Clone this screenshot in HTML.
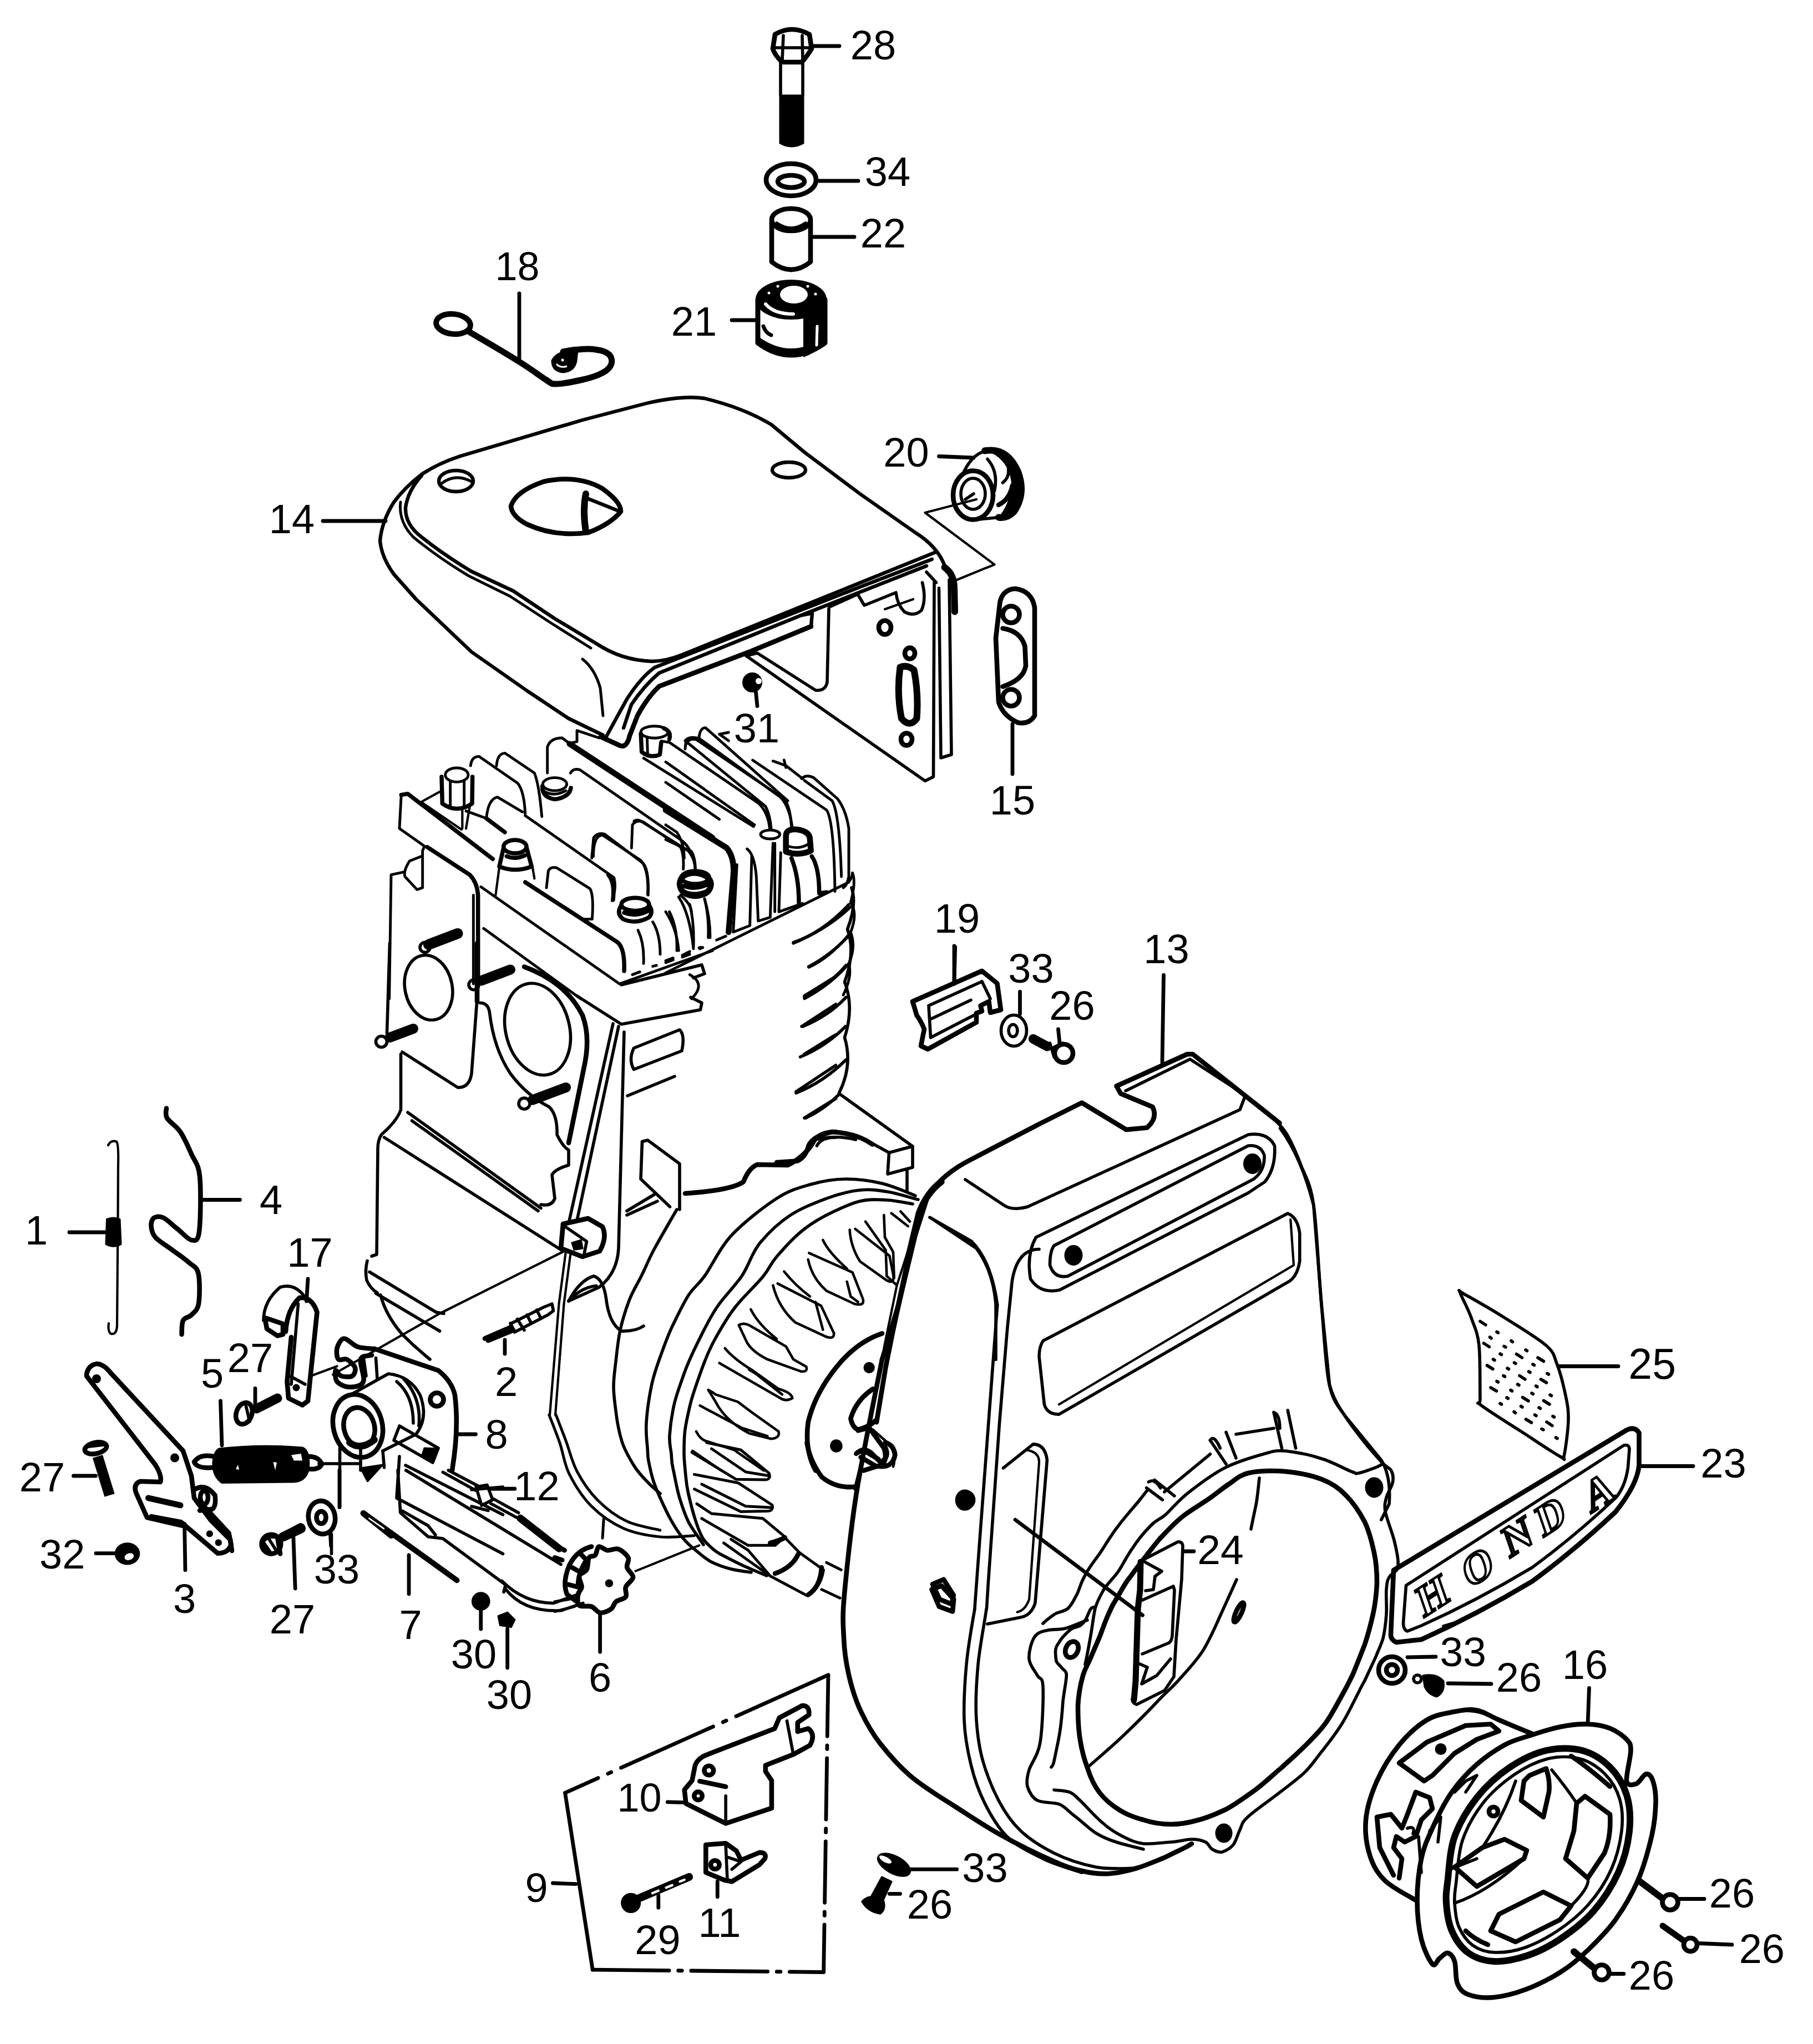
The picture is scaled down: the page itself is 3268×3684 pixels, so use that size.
<!DOCTYPE html>
<html>
<head>
<meta charset="utf-8">
<title>Parts diagram</title>
<style>
html,body{margin:0;padding:0;background:#fff;}
svg{position:absolute;left:0;top:0;}
body{width:3268px;height:3684px;overflow:hidden;}
svg{display:block;}
.l,.t,.k,.kk,.ld{fill:none;stroke:#000;stroke-linecap:round;stroke-linejoin:round;}
.w{fill:#fff;stroke:#000;stroke-linecap:round;stroke-linejoin:round;}
.b{fill:#000;stroke:#000;stroke-linejoin:round;}
.wf{fill:#fff;stroke:none;}
.n{font-family:"Liberation Sans",sans-serif;font-size:74px;fill:#000;}
.l{stroke-width:5.60}.t{stroke-width:4.20}.k{stroke-width:8.60}.kk{stroke-width:12.00}.w{stroke-width:5.60}.b{stroke-width:3.00}.ld{stroke-width:6.80}
.z2 .l{stroke-width:11.20}.z2 .t{stroke-width:8.40}.z2 .k{stroke-width:17.20}.z2 .kk{stroke-width:24.00}.z2 .w{stroke-width:11.20}.z2 .b{stroke-width:6.00}.z2 .ld{stroke-width:13.60}
.z3 .l{stroke-width:16.80}.z3 .t{stroke-width:12.60}.z3 .k{stroke-width:25.80}.z3 .kk{stroke-width:36.00}.z3 .w{stroke-width:16.80}.z3 .b{stroke-width:9.00}.z3 .ld{stroke-width:20.40}
.z14 .l{stroke-width:7.81}.z14 .t{stroke-width:5.86}.z14 .k{stroke-width:11.99}.z14 .kk{stroke-width:16.74}.z14 .w{stroke-width:7.81}.z14 .b{stroke-width:4.18}.z14 .ld{stroke-width:9.48}
.z23 .l{stroke-width:12.69}.z23 .t{stroke-width:9.52}.z23 .k{stroke-width:19.49}.z23 .kk{stroke-width:27.19}.z23 .w{stroke-width:12.69}.z23 .b{stroke-width:6.80}.z23 .ld{stroke-width:15.41}
.z15 .l{stroke-width:8.42}.z15 .t{stroke-width:6.31}.z15 .k{stroke-width:12.93}.z15 .kk{stroke-width:18.04}.z15 .w{stroke-width:8.42}.z15 .b{stroke-width:4.51}.z15 .ld{stroke-width:10.22}
.z18 .l{stroke-width:10.15}.z18 .t{stroke-width:7.61}.z18 .k{stroke-width:15.59}.z18 .kk{stroke-width:21.76}.z18 .w{stroke-width:10.15}.z18 .b{stroke-width:5.44}.z18 .ld{stroke-width:12.33}
.z20 .l{stroke-width:11.45}.z20 .t{stroke-width:8.58}.z20 .k{stroke-width:17.58}.z20 .kk{stroke-width:24.53}.z20 .w{stroke-width:11.45}.z20 .b{stroke-width:6.13}.z20 .ld{stroke-width:13.90}
#cover14 .l{stroke-width:6.4}#cover14 .t{stroke-width:5}
#head .l,#head2 .l{stroke-width:14.70}#head .k,#head2 .k{stroke-width:22.50}#head .kk,#head2 .kk{stroke-width:31.50}
#head3 .l{stroke-width:10.02}#head3 .k{stroke-width:15.33}
#fly1 .l{stroke-width:13.80}
#fly2 .l{stroke-width:11.33}
</style>
</head>
<body>
<svg xmlns="http://www.w3.org/2000/svg" width="3268" height="3684" viewBox="0 0 3268 3684">
<rect x="0" y="0" width="3268" height="3684" fill="#fff"/>

<!-- ===== TOP PARTS 28/34/22/21 ===== -->
<g id="top">
<path class="k" d="M1397,62 Q1427,44 1459,62 L1463,88 Q1450,108 1445,112 L1410,112 Q1397,100 1393,88 Z"/>
<path class="l" d="M1412,64 L1410,108 M1446,64 L1447,108 M1398,86 L1462,86"/>
<path class="l" d="M1407,112 L1407,172 M1447,112 L1447,172"/>
<path class="b" d="M1406,172 L1448,172 L1448,258 Q1427,270 1406,258 Z"/>
<ellipse class="k" cx="1426" cy="324" rx="45" ry="29"/>
<ellipse class="k" cx="1426" cy="327" rx="24" ry="11"/>
<path class="k" d="M1391,398 L1391,472 Q1426,500 1461,472 L1461,398"/>
<ellipse class="k" cx="1426" cy="396" rx="35" ry="20"/>
<path class="l" d="M1400,402 Q1426,420 1452,402"/>
<path d="M1366,540 L1366,618 Q1426,662 1487,618 L1487,540 Z" fill="#fff" stroke="#000" stroke-width="9" stroke-linejoin="round"/>
<path d="M1366,606 Q1426,650 1487,606 L1487,620 Q1426,664 1366,620 Z" fill="#000"/>
<path d="M1448,572 Q1470,566 1487,552 L1487,620 Q1470,636 1448,644 Z" fill="#000"/>
<path d="M1473,588 L1472,622" stroke="#fff" stroke-width="5" stroke-linecap="round"/>
<ellipse cx="1426" cy="540" rx="61" ry="33" fill="#000" stroke="#000" stroke-width="6"/>
<ellipse cx="1431" cy="531" rx="25" ry="16" fill="#fff"/>
<path d="M1380,548 Q1395,566 1430,566" stroke="#fff" stroke-width="6" fill="none" stroke-linecap="round"/>
<path d="M1376,588 Q1380,600 1390,604" stroke="#000" stroke-width="7" fill="none" stroke-linecap="round"/>
<circle cx="1402" cy="516" r="2.5" fill="#fff"/><circle cx="1456" cy="516" r="2.5" fill="#fff"/><circle cx="1470" cy="530" r="2.5" fill="#fff"/><circle cx="1386" cy="528" r="2.5" fill="#fff"/>
</g>

<!-- top labels -->
<g id="toplabels">
<path class="ld" d="M1464,83 L1513,83 M1471,326 L1547,326 M1461,427 L1540,427 M1319,577 L1362,577 M936,529 L936,652 M582,939 L695,939"/>
</g>
<!-- clip 18 -->
<g id="clip18">
<ellipse cx="817" cy="584" rx="31" ry="18" fill="none" stroke="#000" stroke-width="10" transform="rotate(6 817 584)"/>
<path d="M844,597 C859,606 913,637 936,652 C960,667 974,678 985,685 C996,692 992,692 1003,692 C1013,692 1033,688 1047,685 C1061,682 1077,677 1086,672 C1096,667 1100,662 1102,656 C1104,650 1102,643 1098,639 C1093,634 1082,631 1073,630 C1064,628 1052,629 1042,630 C1032,630 1020,633 1015,634" fill="none" stroke="#000" stroke-width="11" stroke-linecap="round" stroke-linejoin="round"/>
<path d="M1040,632 Q1005,632 996,650 Q996,668 1015,670 Q1035,668 1038,650 Z" fill="#000" stroke="#000" stroke-width="5"/>
<path d="M1003,656 Q1010,664 1022,660" stroke="#fff" stroke-width="3" fill="none"/>
<circle cx="1014" cy="649" r="2.5" fill="#fff"/>
</g>
<!-- cover 14 -->
<g id="cover14">
<path class="l" d="M1087,1325 L1025,1295 L950,1245 L850,1175 L750,1080 L710,1035 Q688,1005 685,975 Q688,940 710,905 Q730,878 760,855 Q790,835 830,822 L1050,757 L1165,727 Q1230,712 1270,718 Q1340,735 1390,765 L1450,815 L1550,890 L1650,960 Q1690,985 1703,1020"/>
<path class="l" d="M760,857 Q735,885 731,915 Q730,945 760,968 Q800,1000 850,1030 L925,1065 L1000,1115 L1075,1160 Q1120,1190 1175,1192 Q1200,1192 1230,1180 L1687,995"/>
<path class="t" d="M722,905 Q718,940 745,968 Q790,1005 845,1038 L920,1075 L995,1124 L1065,1168"/>
<path class="l" d="M1680,1008 L1550,1058 L1180,1203 Q1155,1221 1130,1260 L1109,1298 L1091,1331"/>
<path class="l" d="M1670,1020 L1444,1109 L1188,1213 Q1160,1237 1138,1270 L1124,1312 M1444,1109 L1464,1105 L1462,1129"/>
<path class="k" d="M1462,1129 L1353,1174 L1188,1237 Q1166,1258 1149,1290 L1135,1326 Q1130,1348 1118,1344 L1083,1328"/>
<path class="t" d="M1050,1188 Q1072,1205 1082,1240 L1087,1290"/>
<ellipse class="l" cx="822" cy="867" rx="31" ry="19"/>
<path class="t" d="M795,872 Q820,852 850,868"/>
<path class="k" d="M921,912 Q930,885 980,868 Q1040,855 1085,880 Q1120,905 1119,922 Q1100,945 1060,960 Q1000,968 950,945 Q922,930 921,912 Z"/>
<path class="kk" d="M1056,890 Q1050,920 1056,958"/>
<path class="l" d="M1058,898 L1118,922"/>
<ellipse class="l" cx="1422" cy="847" rx="30" ry="14"/>
</g>

<!-- cover right side, parts 20, 15, 31 : region [1200,650] x2 -->
<g class="z2" transform="translate(1200,650) scale(0.5)">

<path class="l" d="M290,1064 L935,1515 L965,1500 L968,800"/>
<path class="l" d="M588,894 L582,1160 Q575,1192 540,1188 L330,1054 L290,1064"/>
<path class="l" d="M590,888 L692,842 L716,882 L830,836 Q835,880 860,905 Q895,925 922,900 Q940,860 925,800"/>
<path class="t" d="M790,896 L892,860"/>
<path class="kk" d="M1005,745 Q1040,770 1040,820 L1042,905"/>
<path class="l" d="M985,820 L992,1432 L1030,1420 L1022,790"/>
<path class="l" d="M940,762 L975,800"/>
<ellipse class="k" cx="790" cy="962" rx="22" ry="25"/>
<ellipse class="k" cx="880" cy="1055" rx="18" ry="20"/>
<ellipse class="k" cx="868" cy="1365" rx="20" ry="22"/>
<path class="kk" d="M845,1105 Q870,1095 895,1115 Q912,1200 905,1290 Q880,1325 850,1290 Q832,1200 845,1105 Z"/>
<circle class="b" cx="312" cy="1160" r="33"/>
<circle class="wf" cx="335" cy="1155" r="11"/>
<path class="ld" d="M325,1195 L330,1245"/>
<!-- leader box for 20 -->
<path class="t" d="M1120,500 L935,548 L1185,735 L1050,790"/><path class="ld" d="M985,345 L1110,350"/>
<path class="b" d="M1150,318 Q1235,305 1278,400 Q1305,485 1262,548 Q1235,572 1200,568 Q1240,525 1250,450 Q1245,375 1190,338 Z"/>
<!-- part 20 -->
<path class="kk" d="M1150,325 Q1230,310 1270,400 Q1300,480 1255,545 Q1230,570 1200,565"/>
<path class="l" d="M1160,325 Q1110,330 1075,400 M1200,565 L1130,572"/>
<ellipse class="k" cx="1108" cy="485" rx="72" ry="88"/>
<ellipse class="l" cx="1108" cy="480" rx="44" ry="56"/>
<path class="l" d="M1185,470 Q1200,400 1160,355 M1215,440 Q1240,420 1235,390 M1080,500 L1110,480"/>
<path class="k" d="M1200,520 Q1240,500 1250,450"/>
<!-- part 15 -->
<path class="k" d="M1205,870 Q1215,825 1260,822 Q1320,830 1330,890 L1330,1280 Q1310,1312 1270,1305 Q1215,1280 1200,1230 L1190,1000 Z"/>
<circle class="k" cx="1245" cy="915" r="30"/>
<circle class="k" cx="1245" cy="1215" r="30"/>
<path class="k" d="M1215,965 Q1280,975 1295,1030 L1298,1100 Q1290,1150 1215,1175"/>
<path class="ld" d="M1250,1310 L1250,1490"/>
</g>

<!-- engine head : region [680,1280] x3 -->
<g class="z3" id="head" transform="translate(680,1280) scale(0.33333)">
<path class="l" d="M130,455 L120,640 L255,735 L245,760 L245,960 L215,970 L150,900 Q140,870 175,815 L240,790"/>
<path class="k" d="M130,458 L165,452 L625,805"/>
<path class="t" d="M240,495 L340,440 M245,502 L455,645"/>
<path class="l" d="M145,875 L75,890 L65,1560"/>
<path class="k" d="M270,740 L500,890 Q540,930 545,1000 L545,1470"/>
<path class="l" d="M520,1000 L520,1480"/>
<ellipse class="l" cx="430" cy="350" rx="62" ry="38"/>
<path class="k" d="M348,360 L352,505 Q430,560 513,505 L515,360"/>
<path class="l" d="M395,385 L395,528 M470,385 L470,530"/>
<path class="t" d="M460,540 L460,640 M500,520 L480,640"/>
<path class="l" d="M505,300 Q510,250 550,250 L760,395 Q795,440 800,560"/>
<path class="l" d="M480,545 L590,585 Q600,480 650,470 L785,550"/>
<path class="k" d="M590,585 L690,660"/>
<path class="l" d="M645,300 Q650,235 690,232 L850,340 Q875,400 890,575"/>
<ellipse class="l" cx="960" cy="400" rx="65" ry="35"/>
<path class="k" d="M893,410 Q890,470 960,482 Q1040,470 1047,420"/>
<path class="l" d="M905,440 Q960,470 1020,435"/>
<path class="l" d="M920,340 L920,200 Q935,150 1000,150 L1040,180 L1080,170 L1080,110 L1200,150"/>
<path class="kk" d="M1040,182 L1813,690"/>
<path class="l" d="M1045,340 Q1060,312 1095,322 L1640,700 Q1710,750 1720,860"/>
<path class="l" d="M800,570 L1280,905 Q1295,960 1270,1030"/>
<path class="k" d="M1250,890 Q1285,930 1275,1025"/>
<path class="l" d="M915,960 L925,870 Q935,845 970,852 L1150,965 Q1172,1000 1162,1130 L1120,1130"/>
<path class="l" d="M1160,800 L1170,690 Q1190,660 1230,670 L1440,830 Q1470,870 1465,1000"/>
<path class="l" d="M1375,745 L1380,620 Q1400,590 1440,605 L1640,740 Q1660,780 1655,860"/>
<ellipse class="k" cx="745" cy="738" rx="62" ry="36"/>
<path class="k" d="M683,745 L660,845 Q745,880 835,845 L808,745 M700,790 Q745,810 800,785"/>
<path class="t" d="M660,850 L640,1000 M840,850 L850,910"/>
<path class="k" d="M800,930 L1300,1255 Q1340,1290 1335,1410"/>
<path class="l" d="M560,955 L1310,1480 L1813,1300"/>

<path class="l" d="M575,1180 L1100,1560"/>
<ellipse class="k" cx="1395" cy="1050" rx="75" ry="35"/>
<path class="k" d="M1320,1055 Q1290,1100 1330,1130 Q1400,1160 1470,1120 Q1495,1090 1470,1055 M1335,1095 Q1400,1120 1465,1085"/>
<ellipse class="k" cx="1720" cy="905" rx="75" ry="35"/>
<path class="k" d="M1645,910 Q1620,950 1655,980 Q1720,1010 1790,975 M1660,950 Q1720,975 1790,940"/>
<path class="l" d="M1410,1190 Q1445,1260 1440,1370 M1490,1145 Q1530,1210 1530,1320 M1580,1090 Q1625,1180 1620,1300 M1690,1050 Q1715,1150 1710,1280 M1770,1020 Q1795,1120 1790,1230"/>
<path class="l" d="M1380,1430 L1420,1415 M1490,1385 L1510,1380 M1560,1355 L1600,1340 M1650,1325 L1690,1305 M1745,1290 L1760,1283"/>
<path class="l" d="M1640,1000 Q1700,1050 1700,1100"/>
</g>

<!-- engine head right : region [1200,1280] x3 -->
<g class="z3" id="head2" transform="translate(1200,1280) scale(0.33333)">
<path class="l" d="M105,210 L110,160 Q130,140 180,152 L620,470 Q670,520 685,640"/>
<path class="l" d="M180,150 Q185,95 215,95 L660,490"/>
<path class="l" d="M105,165 L540,520 Q565,570 570,640"/>
<path class="l" d="M290,130 L340,165 M290,130 L340,120"/>
<path class="l" d="M470,270 L870,540 Q910,600 915,980"/>
<path class="l" d="M580,275 L650,300 L740,370 M640,270 L650,310"/>
<path class="l" d="M735,370 Q760,345 800,365 L930,480 Q975,540 990,640 L990,900 Q980,950 960,960"/>
<path class="l" d="M750,380 L900,490 Q940,560 950,900"/>
<path class="l" d="M0,280 L480,620 M0,390 L290,590"/>
<path class="kk" d="M0,540 L330,745 Q375,800 365,900 L340,1200"/>
<path class="l" d="M0,620 L60,660 Q100,720 100,800 M0,700 L140,765 Q160,800 160,860"/>
<ellipse class="l" cx="565" cy="672" rx="52" ry="24"/>
<path class="kk" d="M650,680 Q650,640 710,645 Q780,655 780,700 L785,760 Q720,790 650,765 Z"/>
<path class="l" d="M660,735 Q720,755 770,725"/>
<path class="l" d="M590,720 L590,1090 M622,770 L612,1090 L740,1045"/>
<path class="k" d="M680,800 Q720,900 720,1040 M790,790 Q830,850 830,990 L870,985"/>
<path class="l" d="M440,750 Q480,780 490,900 L500,1140 L565,1120 L580,720"/>
<path class="l" d="M385,835 L365,1200 L455,1165 L465,790"/>
<path class="l" d="M0,1420 L990,930 Q1010,900 1010,880"/>
<path class="l" d="M275,1243 L325,1222 M90,1335 L130,1320 M0,1365 L40,1350 M180,1285 L190,1282"/>
<path class="kk" d="M75,940 Q80,880 160,880 Q240,890 245,940 Q240,1000 160,1005 Q80,1000 75,940 Z"/>
<path class="l" d="M110,945 Q160,965 215,940"/>
<path class="l" d="M70,1010 Q130,1100 150,1290 M210,1020 Q240,1120 240,1230 M0,1090 Q60,1180 70,1300"/>
<path class="l" d="M1010,880 Q1030,930 1000,1040 Q1040,1100 1000,1200 Q1030,1280 990,1370 Q1010,1440 960,1540"/>
<path class="l" d="M690,1255 Q850,1200 990,1050 M775,1390 Q900,1330 1000,1200 M750,1560 Q900,1480 990,1370 M130,1430 Q220,1480 140,1560"/>
<path class="ld" d="M1565,1280 L1560,1480"/>
</g>

<!-- engine block middle : region [600,1700] x2 -->
<g class="z2" id="block" transform="translate(600,1700) scale(0.5)">
<path class="l" d="M205,0 L195,325 M250,392 L450,520 Q492,522 500,470 L520,200"/>
<path class="k" d="M520,0 L520,210"/>
<ellipse class="l" cx="345" cy="160" rx="85" ry="118" transform="rotate(-12 345 160)"/>
<circle class="l" cx="332" cy="15" r="18"/>
<path d="M345,5 L450,-35" stroke="#000" stroke-width="38" stroke-linecap="round" fill="none"/>
<circle class="l" cx="508" cy="150" r="18"/>
<path d="M535,135 L640,95" stroke="#000" stroke-width="36" stroke-linecap="round" fill="none"/>
<circle class="l" cx="175" cy="355" r="20"/>
<path d="M205,340 L290,308" stroke="#000" stroke-width="36" stroke-linecap="round" fill="none"/>
<circle class="l" cx="690" cy="578" r="20"/>
<path d="M720,565 L840,520" stroke="#000" stroke-width="36" stroke-linecap="round" fill="none"/>
<ellipse class="l" cx="738" cy="310" rx="115" ry="168" transform="rotate(-14 738 310)"/>
<path class="l" d="M530,215 Q560,215 565,250 Q580,380 640,470 Q700,550 780,590 Q810,620 808,690 Q830,735 850,745 L850,800 Q800,815 790,835 L800,920 Q790,950 750,942"/>
<path class="k" d="M690,85 Q840,140 900,260 Q930,340 905,450 L850,720"/>
<path class="l" d="M245,400 L245,600 Q232,640 175,690 Q162,710 162,740 L158,1122 L140,1128 M124,1145 Q115,1180 122,1215 Q135,1245 160,1260 M132,1185 L372,1330 L400,1335"/>
<path class="l" d="M270,610 L750,955 M285,640 L740,965 M185,700 L830,1110"/>
<path class="t" d="M830,1112 L385,1335 L0,1555"/>
<path class="l" d="M155,1262 L385,1398 M172,1268 Q190,1340 250,1410 Q300,1460 350,1500"/>
<path class="l" d="M1010,290 L850,1010 M1030,300 L880,1000"/>
<path class="l" d="M1050,320 L1030,1100 Q1025,1190 960,1240 L850,1290"/>
<path class="k" d="M830,1012 L920,992 L972,1022 Q990,1060 962,1110 L900,1130 L822,1100 Z"/>
<path class="l" d="M835,1020 L915,1075 L905,1125"/>
<path class="b" d="M862,1080 L895,1070 L900,1100 L870,1105 Z"/>
<path class="t" d="M840,1110 L815,1300 L782,1701 M856,1125 L833,1300 L802,1701"/>
<path class="l" d="M850,1290 Q890,1215 940,1200 Q975,1210 985,1280 Q995,1370 1040,1398 Q1090,1400 1120,1380"/>
<path class="l" d="M860,1280 Q900,1240 950,1235"/>
<!-- part 2 -->
<path class="k" d="M548,1425 L640,1385 M560,1432 L650,1395"/>
<path class="l" d="M640,1370 L655,1400 M665,1355 L690,1395 M640,1372 L760,1312 M655,1402 L775,1340 M700,1340 L715,1370 M735,1322 L750,1352 M760,1312 L790,1300 L795,1325 L775,1340"/>
<path class="ld" d="M620,1430 L620,1480"/>
<!-- head base layers -->
<path class="l" d="M1040,150 L1330,78 L1340,110 L1300,125"/>
<path class="l" d="M880,190 L1040,292 L1325,240 L1330,215 L1290,195"/>
<path class="l" d="M1085,378 L1250,312 Q1270,330 1258,388 L1085,455 Q1065,420 1085,378 Z"/>
<path class="l" d="M1062,550 L1232,480"/>
<path class="l" d="M1700,190 L1813,120 M1690,300 L1813,220 M1700,400 L1813,330 M1670,535 L1813,440 M1700,630 L1813,560"/>
<path class="k" d="M1813,680 Q1750,680 1730,720 Q1700,770 1640,800 L1530,798 Q1500,810 1480,860 Q1440,890 1270,902"/>
<path class="l" d="M1813,700 Q1760,700 1745,730"/>
<path class="l" d="M1115,715 L1135,710 L1250,795 L1250,960 M1115,715 L1110,850 L1215,950 M1160,905 L1060,965 M1170,930 L1060,980"/>
</g>

<!-- region [1400,1600] x2 : cylinder right, 19, 33, 26, housing 13 top -->
<g class="z2" id="r1400_1600" transform="translate(1400,1600) scale(0.5)">
<path class="l" d="M270,0 Q290,60 255,150 Q285,230 245,340 Q280,430 245,540 Q275,640 225,740"/>
<path class="l" d="M60,200 Q180,150 265,70 M115,285 Q200,240 262,170 M100,395 Q190,350 250,280 M95,500 Q190,460 250,395 M85,610 Q180,570 248,500 M70,740 Q170,700 250,620 M105,830 Q170,800 225,745"/>
<path class="l" d="M225,742 L490,932 L490,1008 L400,1032 L405,955 L490,932 M405,955 L345,922 M470,1020 L470,1090"/>
<path class="k" d="M0,990 L75,985 Q105,970 115,930 Q130,895 200,880 Q290,885 345,925"/>
<path class="l" d="M140,908 Q210,890 285,908"/>
<path class="k" d="M1225,715 L1480,600 L1500,600 L1813,848 M1225,715 L1240,742 L1355,790 Q1375,830 1335,865 L1260,872 L1100,775 L950,850 L700,980 Q600,1030 545,1110 L500,1250 L440,1500 L380,1701"/>
<path class="l" d="M1258,732 L1490,618 L1690,748 L1670,800 L905,1150 Q850,1165 820,1145 L680,1052"/>
<path class="t" d="M540,1125 L490,1300 L400,1701"/>
<path class="l" d="M555,1190 L720,1300 Q780,1380 790,1500 L790,1701"/>
<path class="l" d="M935,1260 L1700,890 Q1770,880 1795,930 Q1800,1010 1760,1060 L1700,1100 L1020,1450 Q950,1465 915,1410 Q900,1320 935,1260 Z"/>
<path class="l" d="M1000,1290 L1700,930 Q1745,925 1758,965 Q1760,1020 1720,1050 L1050,1400 Q1000,1410 985,1360 Q985,1310 1000,1290 Z"/>
<ellipse class="b" cx="1070" cy="1325" rx="30" ry="34"/>
<ellipse class="b" cx="1715" cy="995" rx="30" ry="34"/>
<!-- part 19 -->
<path class="k" d="M490,410 L740,300 L795,345 L808,440 L770,450 L765,410 L735,425 L740,445 L720,452 L720,485 L545,582 L520,570 L532,510 Q520,480 505,460 Z"/>
<path class="l" d="M548,425 L740,338 M552,475 L700,405 M555,540 L720,455 M548,425 L555,540 M740,338 L770,400"/>
<path class="ld" d="M640,210 L640,345 M877,375 L877,455 M1015,510 L1020,560 M1395,315 L1390,630"/>
<ellipse class="l" cx="855" cy="515" rx="46" ry="56"/>
<ellipse class="l" cx="852" cy="515" rx="16" ry="22"/>
<circle class="k" cx="1035" cy="597" r="33"/>
<path class="l" d="M985,560 L1000,610 M1000,575 L1030,560"/>
<path d="M925,545 L975,572" stroke="#000" stroke-width="34" stroke-linecap="round" fill="none"/>
<!-- flywheel top arcs -->
</g>

<!-- housing 13 body : region [1450,1850] x1.3946 -->
<g class="z14" id="housing" transform="translate(1450,1850) scale(0.71705)">

<path class="l" d="M315,480 L420,540 Q470,590 485,700 L470,900 L440,1300 L428,1464"/>
<path class="l" d="M590,560 Q535,560 522,640 L510,760 L490,1000 L462,1400 L458,1464"/>
<path class="l" d="M1196,256 Q1250,330 1280,450 L1300,700 L1320,900 Q1330,940 1360,980 L1450,1090 Q1475,1130 1470,1200 L1450,1240"/>
<path class="l" d="M600,790 L1215,470 Q1240,480 1245,520 L1245,590 Q1240,625 1220,640 L640,975 Q610,975 603,950 L590,830 Q590,805 600,790 Z"/>
<path class="t" d="M1222,485 L1230,600 L640,950"/>
<path class="l" d="M500,1110 L575,1050 Q605,1050 610,1090 L580,1450 Q570,1480 545,1485 L460,1502"/>
<path class="t" d="M560,1065 Q590,1070 590,1095 L565,1440 Q555,1468 535,1472"/>
<circle class="b" cx="405" cy="1190" r="23"/>
<path class="k" d="M322,1402 L350,1390 L375,1430 L370,1452 L340,1440 Z"/>
<path class="ld" d="M530,1240 L850,1480"/>
<path class="l" d="M1020,1040 L1060,1100 M1060,1020 L1085,1085 M1180,970 L1200,1060 M1215,965 L1235,1060 M880,1140 L930,1180 M860,1160 L900,1190 M1085,1025 L1180,1010 M905,1170 L1020,1075"/>
<path class="l" d="M1020,1040 Q1030,1025 1045,1060 M1180,970 Q1195,975 1195,1010 M865,1145 Q880,1135 895,1160"/>
<!-- hub plate at left -->
<!-- 33 washer and 26 screw at right -->
</g>

<!-- flywheel upper : region [1150,2130] x3 -->
<g class="z3" id="fly1" transform="translate(1150,2130) scale(0.33333)">
<path class="l" d="M1330,180 L1335,300 L1380,380 L1385,520 M1230,215 L1340,370 L1345,510 L1395,555 M1420,160 L1470,215 M1370,170 L1460,240"/>
<path class="l" d="M1145,260 Q1150,350 1200,430 L1340,530 Q1390,560 1380,500 L1360,400 L1175,255"/>
<path class="l" d="M920,420 Q940,520 1020,590 L1170,660 Q1230,675 1215,630 L1160,490 L925,385 M1000,315 Q1030,380 1130,470 M1130,540 L1150,620 L1190,650"/>
<path class="l" d="M730,560 Q760,680 850,760 L1000,830 Q1060,860 1060,820 L990,670 L755,550 M790,485 Q850,560 930,620 M960,650 L1000,800"/>
<path class="l" d="M545,775 Q570,760 600,775 L800,890 L840,960 L910,1000 Q920,1030 880,1025 L700,960 Q620,920 590,870 Z M610,690 Q650,770 750,850"/>
<path class="l" d="M470,900 Q520,960 620,1020 L760,1120 Q830,1140 835,1170 Q800,1190 770,1170 L440,980 M600,1015 L640,1040 L780,1150"/>
<path class="l" d="M380,1125 Q400,1135 420,1150 L540,1190 L620,1250 L760,1350 Q770,1385 720,1390 L600,1360 Q470,1290 420,1190 Z M335,1210 L560,1330 L700,1375"/>
<path class="l" d="M315,1350 Q340,1400 380,1405 L520,1450 L680,1561 M295,1455 L450,1561"/>
<path class="k" d="M1320,820 Q1200,860 1100,970 Q960,1130 920,1300 Q900,1450 960,1561"/>
<circle class="b" cx="1250" cy="1005" r="26"/>
<circle class="b" cx="1072" cy="1425" r="28"/>
<path class="k" d="M1270,1120 Q1180,1180 1150,1280 Q1160,1330 1190,1340 Q1260,1320 1285,1290"/>
<path class="k" d="M1190,1345 L1250,1330 L1330,1440 Q1350,1500 1320,1530 L1220,1561 M1180,1470 Q1210,1440 1250,1470 L1300,1500"/>
<path class="l" d="M1270,1340 L1360,1420 Q1400,1480 1380,1540"/>
<path class="kk" d="M1640,0 Q1560,60 1520,170 L1460,420"/>
<path class="k" d="M1460,420 L1400,700 L1340,1000 L1290,1300"/>
<path class="t" d="M1500,250 L1400,560 L1330,900"/>
</g>

<!-- lower flywheel, knob 6 : region [1000,2600] x2.266 -->
<g class="z23" id="fly2" transform="translate(1000,2600) scale(0.44125)">
<path class="l" d="M-23,-113 C-16,-94 6,-40 20,0 C34,40 38,87 60,130 C82,173 113,223 150,260 C187,297 233,329 280,350 C327,371 382,380 430,385 C478,390 547,381 570,380"/>
<path class="l" d="M5,-113 C12,-94 34,-39 48,0 C62,39 71,81 92,120 C113,159 141,201 175,235 C209,269 252,302 295,322 C338,342 408,352 430,358"/>
<path class="l" d="M200,310 L195,390"/>
<path class="t" d="M330,525 L590,420"/>
<path class="l" d="M620,0 L760,30 L875,125 Q885,150 860,152 L740,150 L560,40 M640,25 L780,120 L870,135"/>
<path class="l" d="M570,130 L750,165 L888,255 Q895,278 870,280 L760,282 L570,190 M600,170 L780,260 L880,265"/>
<path class="l" d="M580,250 L640,290 L850,310 L940,385 L900,420 L790,420 L600,310 M720,395 L790,440 L880,545 L1030,625 Q1085,600 1098,520 L1000,450 L940,388"/>
<path class="k" d="M880,410 Q920,400 940,388 M995,455 Q970,510 900,535 M1090,510 Q1085,590 1035,622"/>
<path class="l" d="M1110,490 L1170,520 M1090,600 L1165,635 M690,410 L880,545"/>
<ellipse class="b" cx="1675" cy="235" rx="36" ry="40"/>
<path class="k" d="M1540,600 L1580,585 L1630,640 L1625,690 L1570,670 Z"/>
<!-- knob 6 -->
<path class="k" d="M180,425 C188,422 202,438 215,440 C228,442 246,430 260,435 C274,440 294,458 300,470 C306,482 292,497 295,510 C298,523 321,537 320,550 C319,563 295,577 290,590 C285,603 297,620 290,630 C283,640 260,642 250,650 C240,658 241,672 230,680 C219,688 198,697 185,695 C172,693 164,675 150,670 C136,665 109,673 100,665 C91,657 93,632 95,620 C97,608 109,602 110,590 C111,578 97,557 100,545 C103,533 123,532 130,520 C137,508 134,480 140,470 C146,460 158,468 165,460 C172,452 172,428 180,425 Z"/>
<circle class="b" cx="222" cy="575" r="13"/>
<path class="k" d="M150,425 Q90,440 60,500 Q30,570 50,620 L90,650 M100,450 L130,480 M70,510 L105,530 M55,580 L95,590 M130,480 Q95,530 95,590 M0,420 L40,440 M0,470 L30,480"/>
<path class="l" d="M0,650 L60,640 M0,690 L80,670"/>
<path class="ld" d="M185,700 L185,855"/>
<!-- hub bottom -->
<path class="k" d="M1030,0 Q1040,70 1090,140 Q1150,190 1230,180"/>
<circle class="b" cx="1150" cy="15" r="22"/>
<path class="k" d="M1240,40 Q1260,20 1290,40 L1330,80 Q1370,60 1350,20 M1250,60 L1310,95 Q1380,110 1390,50 Q1385,10 1350,0"/>
<path class="l" d="M1255,70 L1225,190"/>
</g>

<!-- left small parts : region [0,1950] x2 -->
<g class="z2" id="leftparts" transform="translate(0,1950) scale(0.5)">
<!-- part 1 -->
<path class="t" d="M390,228 Q400,208 420,215 Q428,225 426,300 L425,500 L422,880 Q420,912 400,908 Q388,900 392,870"/>
<path class="b" d="M385,495 Q410,485 432,495 L436,585 Q410,600 382,585 Z"/>
<path class="ld" d="M250,542 L380,542 M730,425 L865,425 M1110,710 L1105,790 M920,1105 L920,1170 M795,1150 L800,1310 M265,1420 L345,1420 M1650,1270 L1715,1270"/>
<!-- part 4 -->
<path class="k" d="M600,95 C600,101 594,116 602,130 C610,144 635,158 650,180 C665,202 678,233 690,260 C702,287 715,293 720,340 C725,387 723,502 718,540 C713,578 703,572 690,570 C677,568 657,543 640,530 C623,517 604,497 590,490 C576,483 562,485 555,490 C548,495 544,508 545,520 C546,532 548,546 560,560 C572,574 600,590 620,605 C640,620 664,636 680,650 C696,664 709,665 715,690 C721,715 720,775 716,800 C712,825 699,830 690,840 C681,850 666,848 660,860 C654,872 656,902 655,910"/>
<!-- part 17 -->
<path class="l" d="M950,860 Q950,790 1010,740 Q1060,725 1095,770"/>
<path class="k" d="M1030,900 Q1035,820 1080,778 Q1125,775 1143,830 L1110,1150 L1090,1165 L1040,1140 L1035,1080 L1050,920"/>
<path class="k" d="M955,850 L1020,872 L1020,910 L1000,915 L962,890 Z"/>
<path class="l" d="M1075,800 L1050,1090 M1100,1090 L1045,1060"/>
<circle class="b" cx="1068" cy="1102" r="10"/>
<path class="t" d="M1120,1060 L1215,1025"/>
<!-- screw 27 upper -->
<ellipse class="k" cx="880" cy="1195" rx="28" ry="40" transform="rotate(20 880 1195)"/>
<path class="l" d="M885,1160 L900,1225"/>
<path d="M925,1178 L1000,1140" stroke="#000" stroke-width="34" stroke-linecap="round" fill="none"/>
<!-- spring 5 -->
<path class="b" d="M790,1322 Q940,1305 1090,1318 Q1120,1330 1112,1400 Q1100,1440 1060,1442 L800,1445 Q765,1420 768,1370 Q772,1330 790,1322 Z"/>
<path class="k" d="M770,1350 Q720,1340 700,1370 Q710,1395 770,1390 M1110,1350 Q1150,1350 1160,1378 Q1150,1400 1110,1395"/>
<path class="l" d="M1150,1376 L1300,1376"/>
<path class="wf" d="M1050,1345 L1085,1340 L1090,1365 L1060,1365 Z M850,1395 L858,1380 L862,1398 Z M985,1370 L992,1400 L998,1372 Z"/>
<!-- lever 3 -->
<path class="k" d="M312,1055 Q318,1020 350,1016 Q375,1018 400,1050 L660,1330 L690,1420 L700,1500 L760,1580 L830,1650 L836,1690"/>
<path class="k" d="M312,1060 L560,1380 Q585,1420 578,1442 L505,1440 Q480,1450 490,1480 L530,1570 L660,1600"/>
<circle class="b" cx="348" cy="1070" r="13"/>
<circle class="b" cx="630" cy="1355" r="13"/>
<path d="M535,1500 L650,1526" stroke="#000" stroke-width="22" stroke-linecap="round" fill="none"/>
<path class="k" d="M700,1470 Q740,1445 775,1490 Q780,1530 765,1540 L720,1545"/>
<ellipse class="k" cx="736" cy="1498" rx="14" ry="24"/>
<!-- screw 27 left -->
<ellipse class="k" cx="345" cy="1320" rx="40" ry="20" transform="rotate(-12 345 1320)"/>
<path class="l" d="M315,1315 L375,1308"/>
<path d="M352,1350 L395,1490" stroke="#000" stroke-width="38" stroke-linecap="butt" fill="none"/>
<!-- washer 33 lower -->
<ellipse class="k" cx="1160" cy="1570" rx="48" ry="60" transform="rotate(-10 1160 1570)"/>
<ellipse class="k" cx="1158" cy="1570" rx="17" ry="22"/>
<path class="l" d="M1195,1630 L1195,1701 M1225,1320 L1225,1530"/>
<!-- screw 27 lower mid -->
<path class="k" d="M945,1660 Q960,1630 1000,1640 L1010,1701 M950,1665 L975,1701"/>
<path d="M1020,1640 L1085,1610" stroke="#000" stroke-width="34" stroke-linecap="round" fill="none"/>
<!-- bracket 8 -->
<ellipse class="k" cx="1290" cy="1240" rx="88" ry="115" transform="rotate(-15 1290 1240)"/>
<ellipse class="k" cx="1295" cy="1245" rx="55" ry="72" transform="rotate(-15 1295 1245)"/>
<path class="l" d="M1260,1130 L1400,1052 Q1480,1060 1515,1130 Q1545,1210 1500,1270 L1380,1330"/>
<path class="l" d="M1430,1080 Q1490,1130 1490,1230 M1455,1070 Q1520,1140 1510,1240"/>
<path class="kk" d="M1260,1300 Q1300,1330 1350,1290"/>
<path class="k" d="M1340,985 C1333,988 1305,984 1300,1000 C1295,1016 1317,1063 1310,1080 C1303,1097 1276,1100 1260,1100 C1244,1100 1223,1090 1215,1080 C1207,1070 1208,1043 1210,1040 C1212,1037 1220,1057 1230,1060 C1240,1063 1262,1065 1270,1060 C1278,1055 1283,1040 1280,1030 C1277,1020 1260,1005 1250,1000 C1240,995 1226,1007 1220,1000 C1214,993 1212,972 1215,960 C1218,948 1228,926 1240,925 C1252,924 1272,949 1290,955 C1308,961 1340,961 1350,962"/>
<path class="k" d="M1350,962 L1580,1040 Q1630,1080 1640,1130 Q1655,1250 1630,1400"/>
<path class="l" d="M1310,990 L1320,1060 M1355,995 L1360,1070"/>
<circle class="k" cx="1575" cy="1145" r="24"/>
<path class="l" d="M1440,1240 L1580,1320 L1560,1372 L1420,1292 Z"/>
<path class="b" d="M1530,1320 L1580,1322 L1562,1370 L1520,1350 Z"/>
<path class="b" d="M1300,1392 L1380,1380 L1325,1440 Z"/>
<path class="l" d="M1380,1330 L1385,1390 M1300,1320 L1300,1400"/>
<!-- block lower left -->
<path class="l" d="M1440,1350 L1430,1500 L1813,1701 M1462,1382 L1813,1560"/>
<path d="M1310,1555 L1410,1635" stroke="#000" stroke-width="22" stroke-linecap="round" fill="none"/>
<path class="l" d="M1700,1470 L1813,1460 M1700,1530 L1760,1545"/>
</g>

<!-- bottom-left small parts : region [0,2650] x1.5033 -->
<g class="z15" id="botleft" transform="translate(0,2650) scale(0.6652)">
<path class="ld" d="M260,225 L315,225 M500,145 L502,270 M795,180 L800,320 M895,170 L897,205 M1108,230 L1108,335 M1303,380 L1303,430 M1375,430 L1375,535 M1330,50 L1395,50 M920,0 L920,100"/>
<ellipse class="b" cx="345" cy="226" rx="32" ry="28"/>
<ellipse class="wf" cx="350" cy="234" rx="13" ry="9" transform="rotate(-20 350 234)"/>
<!-- lever 3 lower -->
<path class="k" d="M410,125 L490,140 L590,225 Q620,225 626,200 L620,170 L555,100"/>
<circle class="b" cx="568" cy="172" r="7"/>
<circle class="b" cx="592" cy="196" r="7"/>
<!-- screw 27 -->
<circle class="k" cx="735" cy="200" r="26"/>
<path class="l" d="M725,180 L750,220"/>
<path d="M768,180 L815,155" stroke="#000" stroke-width="24" stroke-linecap="round" fill="none"/>
<!-- rod 7 -->
<path d="M988,118 L1238,298" stroke="#000" stroke-width="15" stroke-linecap="round" fill="none"/>
<path d="M1000,130 L1040,158" stroke="#fff" stroke-width="4" stroke-linecap="round" fill="none"/>
<!-- dots 30 -->
<circle class="b" cx="1303" cy="355" r="23"/>
<path class="b" d="M1350,395 L1375,385 L1395,405 L1385,425 L1355,420 Z"/>
<!-- part 12 -->
<path class="l" d="M1290,45 L1320,40 L1335,80 L1305,95 Z M1200,5 L1290,55 M1215,0 L1295,42 M1330,90 L1400,128 M1338,78 L1405,115"/>
<path d="M1410,130 L1515,212" stroke="#000" stroke-width="20" stroke-linecap="round" fill="none"/>
<!-- bracket 8 lower plate -->
<path class="l" d="M1078,0 L1085,115 L1160,180 L1200,185 L1370,310 L1365,330 M1360,300 Q1420,360 1500,360 L1570,335"/>
<path class="l" d="M1100,0 L1520,255 M1090,110 L1160,150 L1180,175"/>
<path class="l" d="M1370,322 Q1420,385 1520,380 L1580,360"/>
</g>

<!-- bottom center : region [900,2950] x1.813 -->
<g class="z18" id="botcenter" transform="translate(900,2950) scale(0.55157)">
<path class="ld" stroke-dasharray="330 35 12 35" d="M1075,125 L215,510"/>
<path class="ld" stroke-dasharray="200 30 12 30" d="M1075,125 L1060,1095"/>
<path class="ld" stroke-dasharray="250 30 12 30" d="M305,1088 L1060,1096"/>
<path class="ld" d="M215,510 L305,1088"/>
<path class="ld" d="M175,805 L250,808 M550,540 L610,542 M713,800 L713,850 M520,845 L520,885 M1345,760 L1495,760 M1275,840 L1310,840"/>
<!-- part 10 -->
<path class="k" d="M610,545 L605,500 L630,470 L640,420 Q650,395 680,385 L900,300 L915,265 L990,225 Q1015,225 1012,255 L975,280 L975,310 L1010,300 Q1035,320 1015,355 L960,385 L870,420 L870,440 L890,470 L890,560 L740,610 Z"/>
<path class="l" d="M740,520 L740,610 M940,275 L960,380"/>
<path class="k" d="M655,472 L740,490"/>
<circle class="k" cx="685" cy="437" r="15"/>
<circle class="k" cx="650" cy="520" r="13"/>
<!-- part 11 -->
<path class="k" d="M675,680 L740,675 L775,700 L790,730 L850,705 Q875,705 868,725 L850,745 L760,800 L735,795 L675,770 Z"/>
<path class="l" d="M740,680 L745,790 M745,720 L790,735 M760,760 L790,735"/>
<circle class="k" cx="705" cy="745" r="14"/>
<!-- screw 29 -->
<circle class="b" cx="430" cy="870" r="30"/>
<path d="M455,855 L620,785" stroke="#000" stroke-width="26" stroke-linecap="round" fill="none"/>
<path d="M500,838 L520,830 M545,820 L565,812 M590,800 L605,794" stroke="#fff" stroke-width="8" stroke-linecap="round" fill="none"/>
<!-- washer 33 / screw 26 -->
<ellipse class="b" cx="1290" cy="745" rx="58" ry="28" transform="rotate(28 1290 745)"/>
<ellipse class="wf" cx="1262" cy="728" rx="22" ry="9" transform="rotate(28 1262 728)"/>
<path class="b" d="M1185,865 Q1200,850 1215,850 L1250,785 L1282,800 L1255,860 Q1265,890 1245,905 Q1205,900 1185,865 Z"/>
</g>

<!-- right parts 25, 23 : region [2362,2250] x2 -->
<g class="z2" id="right1" transform="translate(2362,2250) scale(0.5)">
<path class="l" d="M540,160 C536,146 528,150 555,165 C582,180 651,219 700,250 C749,281 818,322 850,350 C882,378 878,390 890,420 C902,450 913,497 920,530 C927,563 931,584 930,620 C929,656 920,723 915,745 C910,767 926,764 900,750 C874,736 808,691 760,660 C712,629 640,585 615,565 C590,545 613,576 612,540 C611,504 613,398 608,350 C603,302 591,282 580,250 C569,218 544,174 540,160 Z"/>
<path class="l" d="M612,263 L632,276 M672,301 L677,304 M724,333 L729,337 M776,366 L781,369 M820,394 L841,407 M647,320 L652,324 M698,353 L704,356 M743,381 L763,394 M802,418 L807,421 M854,451 L859,454 M625,342 L645,355 M684,380 L689,383 M735,412 L740,415 M787,444 L792,447 M831,472 L851,484 M659,400 L664,403 M710,432 L715,435 M754,459 L774,472 M813,496 L818,499 M864,528 L869,531 M637,422 L658,435 M696,459 L701,462 M747,490 L752,493 M798,522 L803,525 M841,549 L862,562 M672,479 L677,482 M722,511 L727,514 M765,537 L786,550 M824,574 L829,577 M874,605 L879,608 M650,502 L671,514 M708,538 L713,541 M759,569 L764,572 M809,600 L814,603 M852,626 L872,639 M684,559 L689,562 M734,589 L739,593 M777,616 L797,628 M834,651 L840,654 M885,682 L890,685 "/>
<path class="ld" d="M895,425 L1110,425 M1190,785 L1380,785"/>
<path class="k" d="M300,1160 L1140,655 Q1170,640 1185,665 L1185,780 Q1180,850 1100,950 Q950,1090 800,1200 Q600,1320 400,1410 L310,1420 Q288,1410 290,1390 Z"/>
<path class="l" d="M345,1215 L1130,710 Q1150,705 1150,725 L1145,790 Q1135,860 1100,900 Q950,1040 800,1150 Q600,1270 400,1360 L350,1380 Q335,1375 335,1350 Z"/>

<text x="0" y="0" text-anchor="middle" transform="translate(440,1251) rotate(-33) skewX(-14)" font-family="Liberation Serif" font-weight="bold" font-size="150" fill="#fff" stroke="#000" stroke-width="9" dy="50">H</text>
<text x="0" y="0" text-anchor="middle" transform="translate(603,1148) rotate(-33) skewX(-14)" font-family="Liberation Serif" font-weight="bold" font-size="150" fill="#fff" stroke="#000" stroke-width="9" dy="50">O</text>
<text x="0" y="0" text-anchor="middle" transform="translate(746,1039) rotate(-33) skewX(-14)" font-family="Liberation Serif" font-weight="bold" font-size="150" fill="#fff" stroke="#000" stroke-width="9" dy="50">N</text>
<text x="0" y="0" text-anchor="middle" transform="translate(867,964) rotate(-33) skewX(-14)" font-family="Liberation Serif" font-weight="bold" font-size="150" fill="#fff" stroke="#000" stroke-width="9" dy="50">D</text>
<text x="0" y="0" text-anchor="middle" transform="translate(1039,878) rotate(-33) skewX(-14)" font-family="Liberation Serif" font-weight="bold" font-size="150" fill="#fff" stroke="#000" stroke-width="9" dy="50">A</text>
<path class="l" d="M520,1350 L480,1362"/>
</g>
<g id="w33r">
<circle class="k" cx="2509" cy="3010" r="24"/>
<circle class="k" cx="2509" cy="3010" r="10"/>
<circle class="l" cx="2555" cy="3026" r="7"/>
<path class="b" d="M2565,3020 Q2590,3015 2602,3030 Q2605,3050 2590,3058 Q2575,3055 2568,3040 Z"/>
<path class="ld" d="M2537,2987 L2588,2986 M2610,3034 L2688,3035"/>
</g>

<!-- part 16 and screws : region [2362,2950] x2 -->
<g class="z2" id="part16" transform="translate(2362,2950) scale(0.5)">
<path class="ld" d="M1005,185 L1000,315 M1330,945 L1420,945 M1400,1105 L1520,1110 M1085,1215 L1130,1215"/>
<path class="k" d="M795,355 C828,344 866,332 900,325 C934,318 970,314 1000,315 C1030,316 1057,321 1080,330 C1103,339 1128,357 1140,370 C1152,383 1155,385 1155,410 C1155,435 1137,500 1140,520 C1143,540 1163,534 1175,530 C1187,526 1200,497 1210,495 C1220,493 1229,502 1235,520 C1241,538 1246,567 1245,600 C1244,633 1241,673 1230,720 C1219,767 1202,830 1180,880 C1158,930 1130,978 1100,1020 C1070,1062 1033,1098 1000,1130 C967,1162 937,1187 900,1210 C863,1233 820,1255 780,1270 C740,1285 695,1297 660,1300 C625,1303 592,1298 570,1290 C548,1282 538,1270 530,1250 C522,1230 526,1188 520,1170 C514,1152 504,1142 495,1140 C486,1138 474,1153 465,1160 C456,1167 451,1192 440,1180 C429,1168 409,1128 400,1090 C391,1052 385,998 385,950 C385,902 391,843 400,800 C409,757 422,730 440,690 C458,650 483,598 510,560 C537,522 568,488 600,460 C632,432 668,408 700,390 C732,372 762,366 795,355 Z"/>
<path class="kk" d="M495,880 C500,840 502,770 520,720 C538,670 567,622 600,580 C633,538 678,498 720,470 C762,442 807,420 850,410 C893,400 942,400 980,410 C1018,420 1053,443 1080,470 C1107,497 1128,532 1140,570 C1152,608 1155,653 1150,700 C1145,747 1132,802 1110,850 C1088,898 1055,950 1020,990 C985,1030 940,1063 900,1090 C860,1117 820,1137 780,1150 C740,1163 695,1172 660,1170 C625,1168 595,1158 570,1140 C545,1122 523,1090 510,1060 C497,1030 492,990 490,960 C488,930 490,920 495,880 Z"/>
<path class="l" d="M525,890 C530,852 532,783 548,735 C564,687 591,640 622,600 C653,560 696,524 735,497 C774,470 816,450 855,440 C894,430 938,431 972,440 C1006,449 1038,471 1062,495 C1086,519 1105,551 1115,585 C1125,619 1127,658 1122,700 C1117,742 1105,793 1085,838 C1065,883 1033,931 1000,968 C967,1005 926,1037 888,1062 C850,1087 812,1107 775,1120 C738,1133 697,1139 665,1138 C633,1137 607,1128 585,1112 C563,1096 546,1070 535,1045 C524,1020 522,986 520,960 C518,934 520,928 525,890 Z"/>
<path class="k" d="M800,350 C780,342 713,314 680,300 C647,286 627,270 600,265 C573,260 550,264 520,270 C490,276 453,280 420,300 C387,320 350,353 320,390 C290,427 260,475 240,520 C220,565 204,615 200,660 C196,705 203,753 215,790 C227,827 242,853 270,880 C298,907 362,938 380,950"/>
<path class="l" d="M520,270 Q600,255 680,300 L800,350"/>
<path class="k" d="M320,455 L420,380 L560,320 L650,315 L680,340 L600,370 L520,420 L440,500 L410,520 Z"/>
<circle class="b" cx="470" cy="405" r="18"/>
<path class="k" d="M240,650 L290,640 L330,690 L350,640 L380,560 L430,580 L440,620 L400,660 L380,720 L340,740 L310,720 L300,760 L330,800 L320,870 M240,650 L250,760 L300,860"/>
<path class="l" d="M520,560 L560,520 L600,500 L560,560 M430,700 L470,650 L460,740 M390,720 L400,850 M350,690 Q380,680 370,710"/>
<path class="k" d="M790,500 L850,475 Q865,520 860,560 L840,650 L760,590 L770,520 Z"/>
<path class="k" d="M960,600 L990,575 L1080,640 Q1085,720 1060,780 L1000,870 L920,800 L950,700 Z"/>
<path class="k" d="M700,730 L780,770 L770,800 L600,900 L520,830 L620,760 Z"/>
<path class="k" d="M680,1000 L840,920 L940,970 L900,1020 L740,1100 L650,1060 Z"/>
<path class="l" d="M740,520 Q700,640 620,760 M870,480 Q920,540 960,600 M520,960 Q640,920 770,800 M940,970 Q1010,900 1000,870 M500,840 L600,800"/>
<circle class="k" cx="660" cy="630" r="16"/>
<path class="k" d="M940,430 Q1000,470 1080,540 M560,1060 Q590,1090 640,1110"/>
<!-- screws -->
<path d="M1185,880 L1265,940" stroke="#000" stroke-width="24" stroke-linecap="round" fill="none"/>
<circle class="k" cx="1297" cy="957" r="28"/>
<path d="M1270,1042 L1345,1095" stroke="#000" stroke-width="22" stroke-linecap="round" fill="none"/>
<circle class="k" cx="1370" cy="1110" r="24"/>
<path d="M950,1135 L1020,1192" stroke="#000" stroke-width="24" stroke-linecap="round" fill="none"/>
<circle class="k" cx="1050" cy="1210" r="27"/>
</g>
<g id="housing_low">
<path class="k" d="M2250,2655 C2267,2651 2294,2650 2316,2652 C2338,2654 2364,2659 2382,2666 C2400,2673 2414,2682 2426,2695 C2439,2708 2451,2726 2460,2743 C2468,2760 2473,2780 2477,2799 C2481,2817 2482,2835 2482,2854 C2481,2872 2479,2891 2475,2909 C2471,2927 2466,2946 2460,2964 C2453,2982 2444,3005 2438,3019 C2431,3033 2430,3036 2422,3050 C2414,3064 2402,3088 2390,3105 C2378,3122 2363,3136 2350,3149 C2337,3162 2324,3173 2310,3186 C2294,3199 2277,3216 2260,3228 C2243,3240 2227,3252 2210,3261 C2193,3269 2177,3276 2161,3280 C2144,3285 2128,3288 2111,3288 C2094,3288 2076,3285 2061,3280 C2046,3276 2032,3271 2019,3263 C2006,3255 1992,3244 1982,3231 C1972,3218 1965,3202 1960,3186 C1954,3170 1950,3155 1947,3136 C1944,3118 1943,3094 1943,3074 C1944,3055 1948,3034 1952,3020 C1956,3006 1960,3002 1965,2990 C1970,2978 1977,2962 1983,2948 C1988,2934 1994,2918 1999,2907 C2004,2895 2008,2888 2014,2879 C2020,2869 2025,2859 2032,2849 C2040,2839 2047,2828 2057,2816 C2067,2803 2078,2788 2090,2774 C2102,2761 2117,2745 2132,2733 C2147,2721 2167,2710 2181,2700 C2195,2690 2204,2682 2215,2675 C2226,2668 2233,2659 2250,2655 Z"/>
<path class="l" d="M2296,2016 C2300,2021 2312,2031 2320,2045 C2328,2059 2337,2079 2345,2100 C2353,2121 2362,2131 2368,2173 C2374,2215 2377,2298 2382,2352 C2387,2406 2389,2462 2396,2495 C2403,2528 2414,2536 2425,2553 C2436,2570 2449,2586 2460,2600 C2471,2614 2485,2629 2493,2638 C2501,2646 2505,2645 2508,2651 C2511,2657 2512,2665 2510,2673 C2508,2681 2501,2691 2499,2699 C2497,2707 2495,2712 2497,2724 C2499,2735 2506,2753 2510,2766 C2514,2778 2516,2788 2518,2799 C2520,2809 2521,2820 2519,2827 C2517,2834 2507,2836 2504,2843 C2500,2849 2500,2854 2499,2865 C2498,2876 2500,2894 2499,2909 C2498,2924 2496,2940 2493,2953 C2489,2966 2485,2973 2480,2986 C2474,2999 2465,3018 2460,3029 C2454,3040 2455,3037 2449,3050 C2442,3063 2431,3087 2420,3105 C2409,3123 2392,3145 2380,3160 C2368,3175 2364,3183 2350,3196 C2336,3209 2314,3225 2297,3238 C2280,3251 2258,3266 2248,3276 C2237,3286 2239,3290 2235,3298 C2231,3306 2228,3318 2223,3325 C2217,3332 2209,3336 2203,3338 C2197,3339 2190,3336 2185,3333 C2180,3330 2179,3323 2173,3320 C2167,3317 2158,3315 2148,3315 C2138,3315 2126,3319 2111,3320 C2096,3321 2076,3324 2061,3323 C2046,3321 2036,3316 2024,3310 C2012,3304 1999,3296 1987,3285 C1975,3275 1959,3257 1950,3248 C1940,3239 1938,3235 1930,3231 C1922,3227 1905,3227 1900,3226"/>
<path class="l" d="M2493,2638 C2491,2639 2489,2641 2482,2644 C2474,2647 2456,2654 2449,2655 C2441,2656 2449,2657 2438,2653 C2426,2649 2403,2635 2382,2629 C2362,2622 2333,2617 2316,2615 C2299,2614 2298,2615 2280,2620 C2262,2625 2234,2633 2211,2644 C2188,2655 2163,2674 2145,2688 C2126,2702 2112,2720 2101,2730 C2089,2740 2084,2739 2074,2750 C2064,2760 2050,2777 2041,2791 C2031,2805 2024,2820 2016,2832 C2007,2845 1996,2854 1989,2866 C1983,2877 1978,2885 1974,2899 C1971,2912 1969,2931 1966,2948 C1963,2965 1958,2991 1956,3000"/>
<path class="l" d="M2068,2686 C2066,2688 2066,2689 2057,2700 C2049,2711 2028,2733 2016,2750 C2003,2766 1993,2784 1983,2799 C1972,2814 1961,2828 1955,2841 C1948,2853 1946,2864 1941,2874 C1936,2883 1932,2893 1925,2899 C1918,2905 1907,2905 1900,2910 C1893,2915 1883,2923 1880,2926"/>
<path class="l" d="M1974,2896 C1973,2897 1969,2896 1966,2900 C1963,2904 1960,2914 1957,2919 C1954,2924 1951,2927 1947,2930 C1943,2932 1937,2933 1933,2935 C1929,2937 1926,2940 1922,2944 C1918,2948 1914,2952 1911,2957 C1908,2962 1904,2966 1903,2972 C1902,2978 1903,2988 1904,2994 C1906,2999 1910,3001 1913,3005 C1916,3009 1921,3011 1922,3016 C1923,3020 1922,3024 1921,3032 C1920,3040 1918,3050 1916,3066 C1915,3081 1913,3106 1910,3124 C1907,3142 1902,3164 1900,3174 C1898,3184 1896,3183 1895,3185"/>
<path class="l" d="M1960,2920 C1953,2922 1932,2932 1920,2935 C1908,2938 1899,2936 1890,2938 C1881,2940 1871,2941 1865,2950 C1859,2959 1854,2978 1855,2990 C1856,3002 1866,3012 1870,3020 C1874,3028 1879,3020 1880,3040 C1881,3060 1879,3115 1875,3140 C1871,3165 1859,3177 1855,3190 C1851,3203 1850,3211 1852,3220 C1855,3229 1860,3240 1870,3245 C1880,3250 1899,3248 1910,3252 C1921,3257 1926,3265 1937,3273 C1948,3281 1962,3295 1974,3303 C1987,3311 1999,3316 2012,3320 C2024,3324 2041,3328 2049,3330 C2057,3332 2059,3332 2061,3333"/>
<path class="k" d="M1590,2450 C1582,2491 1554,2625 1543,2696 C1532,2767 1526,2831 1522,2874 C1518,2917 1520,2929 1521,2953 C1522,2977 1525,2997 1530,3019 C1535,3041 1542,3064 1552,3085 C1562,3106 1572,3124 1587,3143 C1602,3162 1618,3181 1640,3200 C1662,3219 1693,3238 1720,3255 C1747,3272 1770,3288 1800,3305 C1830,3322 1875,3344 1900,3355 C1925,3366 1933,3368 1950,3372 C1966,3376 1982,3378 1999,3377 C2016,3376 2032,3372 2049,3367 C2066,3362 2084,3354 2099,3348 C2113,3341 2128,3334 2136,3330 C2144,3326 2146,3324 2148,3323"/>
<path class="l" d="M1757,2900 C1754,2917 1745,2967 1742,3000 C1739,3033 1737,3070 1738,3100 C1739,3130 1744,3155 1750,3180 C1756,3205 1764,3228 1775,3250 C1786,3272 1798,3293 1815,3310 C1832,3327 1858,3339 1880,3350 C1902,3361 1938,3371 1950,3375"/>
<path class="l" d="M1778,2900 C1776,2917 1766,2967 1763,3000 C1760,3033 1758,3071 1760,3100 C1762,3129 1765,3151 1772,3175 C1779,3199 1789,3224 1800,3245 C1811,3266 1823,3284 1840,3300 C1857,3316 1878,3329 1900,3340 C1922,3351 1950,3360 1975,3365 C2000,3370 2038,3367 2050,3367"/>
<path class="l" d="M2229,2847 C2224,2858 2210,2889 2200,2911 C2190,2933 2180,2957 2167,2977 C2154,2997 2136,3015 2123,3030 C2109,3045 2102,3050 2086,3067 C2070,3084 2045,3109 2024,3129 C2003,3149 1971,3176 1961,3185"/>
<path class="l" d="M2270,2664 C2269,2672 2267,2697 2264,2712 C2261,2727 2256,2749 2255,2756"/>
<ellipse class="k" cx="1932" cy="2973" rx="11" ry="15" transform="rotate(25 1932 2973)"/>
<ellipse class="b" cx="2477" cy="2681" rx="15" ry="17"/>
<ellipse class="b" cx="2206" cy="3304" rx="14" ry="16"/>
<ellipse class="k" cx="2233" cy="2906" rx="5" ry="19" transform="rotate(25 2233 2906)"/>
<path class="l" d="M2065,2809 L2123,2779 Q2131,2778 2132,2786 L2130,2846 L2120,2955 L2116,3022 L2099,3047 L2049,3072 Q2041,3070 2041,3062"/>
<path d="M2056,2815 L2055,2866 L2051,2900 L2047,3030 L2044,3064" stroke="#000" stroke-width="11" fill="none" stroke-linecap="round" stroke-linejoin="round"/>
<path class="l" d="M2059,2884 L2115,2859 L2117,2866 L2113,2948 Q2112,2958 2107,2961 L2059,2981"/>
<path class="l" d="M2065,2816 L2094,2832 L2082,2841 L2079,2865 L2065,2867 M2052,2998 L2068,3005 L2058,3035 L2085,3020 L2110,2990"/>
<path class="ld" d="M2133,2796 L2152,2796"/>
</g>

<!-- head top bolt + fins : region [1050,1250] x2.044 -->
<g class="z20" id="head3" transform="translate(1050,1250) scale(0.48924)">
<ellipse class="l" cx="265" cy="142" rx="50" ry="22"/>
<path class="k" d="M215,148 L218,215 Q250,240 285,225 L290,180 M300,128 Q328,140 320,168"/>
<path class="l" d="M238,160 L240,228"/>
<path class="l" d="M290,175 L320,180 L650,405 Q685,440 690,500"/>
<path class="l" d="M225,238 L630,490"/>
<path class="l" d="M380,190 Q390,162 420,170 L745,390 Q768,425 770,500"/>
<path class="l" d="M190,470 Q200,462 215,470 L390,580 Q415,610 415,645"/>
<path class="l" d="M40,600 Q40,520 75,522 L215,615 Q245,650 240,740"/>
</g>
<g id="flyarcs">
<path class="l" d="M1650,2155 C1640,2151 1611,2138 1590,2133 C1569,2128 1547,2125 1525,2125 C1503,2125 1481,2129 1460,2135 C1439,2141 1423,2145 1400,2160 C1377,2175 1342,2202 1320,2225 C1298,2248 1283,2282 1270,2300 C1257,2318 1252,2318 1242,2333 C1232,2348 1222,2370 1213,2388 C1204,2406 1198,2424 1191,2443 C1184,2462 1178,2479 1174,2499 C1170,2519 1166,2547 1165,2565 C1164,2583 1166,2598 1167,2609 C1168,2620 1167,2623 1169,2633 C1171,2643 1174,2658 1178,2670 C1182,2682 1186,2691 1191,2702 C1196,2713 1202,2726 1208,2737 C1214,2748 1222,2761 1230,2771 C1238,2781 1246,2788 1255,2795 C1264,2802 1272,2810 1282,2815 C1292,2820 1306,2825 1318,2828 C1330,2831 1348,2833 1354,2834"/>
<path class="l" d="M1655,2162 C1646,2160 1618,2151 1600,2148 C1582,2145 1568,2143 1550,2145 C1532,2147 1511,2152 1490,2160 C1469,2168 1445,2177 1425,2190 C1405,2203 1385,2222 1370,2240 C1355,2258 1350,2281 1337,2300 C1324,2319 1306,2336 1293,2355 C1280,2374 1270,2395 1260,2415 C1250,2435 1240,2456 1233,2476 C1226,2496 1219,2514 1215,2532 C1211,2550 1208,2572 1207,2587 C1206,2602 1209,2610 1210,2620 C1211,2630 1210,2633 1213,2646 C1216,2659 1220,2684 1225,2700 C1230,2716 1234,2729 1241,2743 C1248,2757 1264,2777 1268,2784"/>
<path class="l" d="M1645,2170 C1638,2169 1616,2164 1600,2163 C1584,2162 1567,2161 1550,2165 C1533,2169 1517,2177 1500,2185 C1483,2193 1467,2202 1450,2215 C1433,2228 1412,2251 1400,2265 C1388,2279 1388,2285 1376,2300 C1364,2315 1341,2336 1326,2355 C1311,2374 1299,2395 1288,2415 C1277,2435 1269,2456 1262,2476 C1255,2496 1248,2515 1244,2532 C1240,2549 1237,2562 1235,2576 C1233,2590 1233,2605 1233,2619 C1233,2633 1235,2648 1236,2660 C1237,2672 1238,2680 1241,2693 C1244,2706 1248,2722 1252,2735 C1256,2748 1261,2762 1266,2771 C1271,2780 1277,2784 1283,2790 C1289,2796 1294,2799 1304,2804 C1314,2809 1327,2816 1340,2822 C1353,2828 1375,2837 1382,2840"/>
<path class="l" d="M1220,2180 C1213,2192 1191,2230 1180,2250 C1169,2270 1164,2284 1156,2300 C1148,2316 1140,2328 1134,2344 C1128,2360 1122,2379 1118,2397 C1114,2415 1112,2437 1110,2454 C1108,2471 1106,2484 1106,2499 C1106,2514 1108,2526 1110,2543 C1112,2560 1116,2582 1121,2598 C1126,2614 1135,2629 1143,2642 C1151,2655 1163,2667 1171,2675 C1179,2683 1187,2689 1190,2692"/>
</g>
<g id="labels" text-anchor="middle">
<text class="n" x="1574.0" y="106.5">28</text>
<text class="n" x="1600.0" y="334.5">34</text>
<text class="n" x="1592.0" y="445.5">22</text>
<text class="n" x="1251.0" y="604.5">21</text>
<text class="n" style="font-size:72px" x="932.6" y="504.5">18</text>
<text class="n" x="526.0" y="960.5">14</text>
<text class="n" x="1633.5" y="840.5">20</text>
<text class="n" x="1825.0" y="1467.5">15</text>
<text class="n" x="1364.0" y="1337.5">31</text>
<text class="n" x="1725.0" y="1680.5">19</text>
<text class="n" x="1858.5" y="1770.5">33</text>
<text class="n" x="1932.5" y="1837.5">26</text>
<text class="n" x="2102.5" y="1735.5">13</text>
<text class="n" x="912.5" y="2515.5">2</text>
<text class="n" style="font-size:75px" x="2199.9" y="2818.8">24</text>
<text class="n" style="font-size:75px" x="2637.2" y="3003.1">33</text>
<text class="n" x="2738.0" y="3048.5">26</text>
<text class="n" style="font-size:77px" x="2978.2" y="2485.2">25</text>
<text class="n" x="3106.5" y="2662.5">23</text>
<text class="n" x="65.5" y="2242.5">1</text>
<text class="n" x="488.5" y="2187.5">4</text>
<text class="n" x="558.5" y="2282.5">17</text>
<text class="n" x="451.0" y="2472.5">27</text>
<text class="n" x="382.5" y="2500.5">5</text>
<text class="n" x="76.0" y="2687.5">27</text>
<text class="n" x="895.0" y="2610.5">8</text>
<text class="n" x="112.2" y="2826.5">32</text>
<text class="n" x="332.5" y="2906.5">3</text>
<text class="n" x="527.0" y="2943.5">27</text>
<text class="n" x="607.0" y="2853.5">33</text>
<text class="n" x="740.0" y="2953.5">7</text>
<text class="n" x="854.0" y="3006.5">30</text>
<text class="n" x="918.0" y="3079.5">30</text>
<text class="n" x="967.5" y="2703.5">12</text>
<text class="n" x="1081.5" y="3048.5">6</text>
<text class="n" x="967.0" y="3427.5">9</text>
<text class="n" style="font-size:72px" x="1152.5" y="3264.5">10</text>
<text class="n" x="1297.0" y="3490.5">11</text>
<text class="n" x="1185.5" y="3521.5">29</text>
<text class="n" x="1775.5" y="3391.5">33</text>
<text class="n" x="1676.0" y="3457.5">26</text>
<text class="n" x="2857.0" y="3025.5">16</text>
<text class="n" x="3122.0" y="3437.5">26</text>
<text class="n" x="3175.8" y="3538.0">26</text>
<text class="n" x="2977.0" y="3585.5">26</text>
</g>
</svg>
</body>
</html>
